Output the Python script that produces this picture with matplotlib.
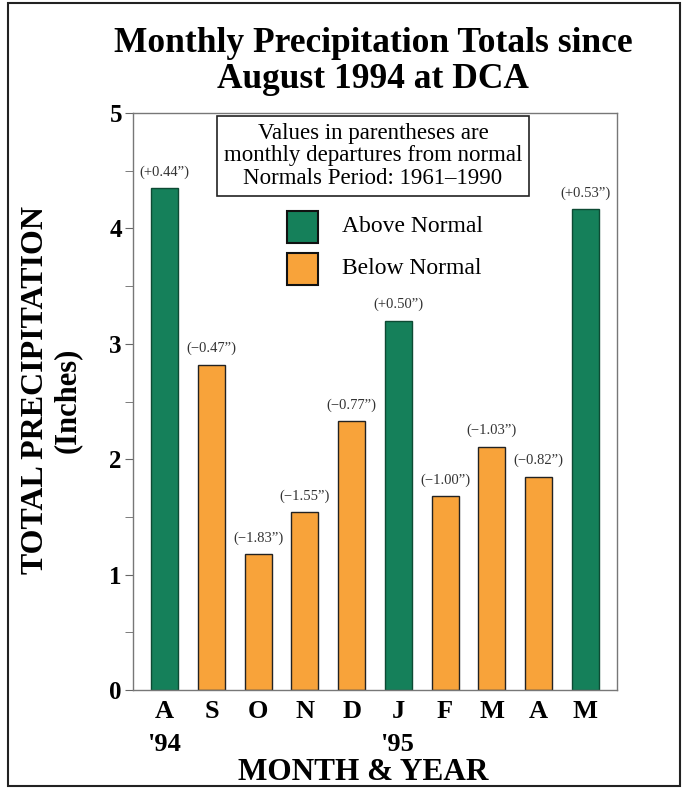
import matplotlib.pyplot as plt
from matplotlib.patches import Rectangle
from matplotlib.ticker import MultipleLocator

plt.rcParams["font.family"] = ["Liberation Serif", "DejaVu Serif"]

# data
months = ["A\n'94", "S", "O", "N", "D", "J\n'95", "F", "M", "A", "M"]
totals = [4.35, 2.82, 1.18, 1.54, 2.33, 3.20, 1.68, 2.11, 1.85, 4.17]
departures = ["(+0.44\u201d)", "(\u22120.47\u201d)", "(\u22121.83\u201d)", "(\u22121.55\u201d)",
              "(\u22120.77\u201d)", "(+0.50\u201d)", "(\u22121.00\u201d)", "(\u22121.03\u201d)",
              "(\u22120.82\u201d)", "(+0.53\u201d)"]
above = [True, False, False, False, False, True, False, False, False, True]

green = "#15805a"
orange = "#f8a33a"

fig = plt.figure(figsize=(6.83, 7.89), dpi=100)
ax = fig.add_axes([133 / 683, 1 - 690 / 789, (617 - 133) / 683, (690 - 113) / 789])

x = list(range(len(months)))
colors = [green if a else orange for a in above]
edges = ["#0d4a33" if a else "#222222" for a in above]
ax.bar(x, totals, width=0.58, color=colors, edgecolor=edges, linewidth=1.0)

for xi, v, d in zip(x, totals, departures):
    ax.text(xi, v + 0.08, d, ha="center", va="bottom", fontsize=10.5, color="#333333")

ax.set_xlim(-0.68, 9.68)
ax.set_ylim(0, 5)
ax.yaxis.set_major_locator(MultipleLocator(1))
ax.yaxis.set_minor_locator(MultipleLocator(0.5))
ax.tick_params(axis="y", which="both", direction="out", length=6, color="#666666",
               labelsize=18, pad=2)
ax.tick_params(axis="x", length=0, labelsize=19, pad=7)
for lab in ax.get_yticklabels():
    lab.set_fontweight("bold")
ax.set_xticks(x)
ax.set_xticklabels(months, fontweight="bold", linespacing=1.55, va="top")
for side in ["left", "bottom", "top", "right"]:
    ax.spines[side].set_color("#777777")
    ax.spines[side].set_linewidth(1.0)

# note box
fig.text(373 / 683, 1 - 156 / 789,
         "Values in parentheses are\nmonthly departures from normal\nNormals Period: 1961\u20131990",
         ha="center", va="center", fontsize=16.5, linespacing=1.12,
         bbox=dict(boxstyle="square,pad=0.28", facecolor="white", edgecolor="#222222", linewidth=1.2))

# legend
for yy, c, lbl in [(227, green, "Above Normal"), (269, orange, "Below Normal")]:
    fig.patches.append(Rectangle((287 / 683, 1 - (yy + 16) / 789), 31 / 683, 32 / 789,
                                 transform=fig.transFigure, facecolor=c,
                                 edgecolor="#111111", linewidth=1.5))
    fig.text(342 / 683, 1 - yy / 789, lbl, ha="left", va="center", fontsize=17)

fig.text(373 / 683, 1 - 61 / 789, "Monthly Precipitation Totals since\nAugust 1994 at DCA",
         ha="center", va="center", fontsize=25.5, fontweight="bold", linespacing=1.12)

fig.text(36 / 683, 1 - 390 / 789, "TOTAL PRECIPITATION", rotation=90, ha="center",
         va="center", fontsize=23, fontweight="bold")
fig.text(67 / 683, 1 - 400 / 789, "(Inches)", rotation=90, ha="center",
         va="center", fontsize=22, fontweight="bold")
fig.text(363 / 683, 1 - 772 / 789, "MONTH & YEAR", ha="center", va="center",
         fontsize=22.5, fontweight="bold")

# outer frame
fig.patches.append(Rectangle((8 / 683, 3 / 789), 672 / 683, 783 / 789,
                             transform=fig.transFigure, fill=False,
                             edgecolor="#222222", linewidth=1.5))

fig.savefig("out.png", dpi=100)
